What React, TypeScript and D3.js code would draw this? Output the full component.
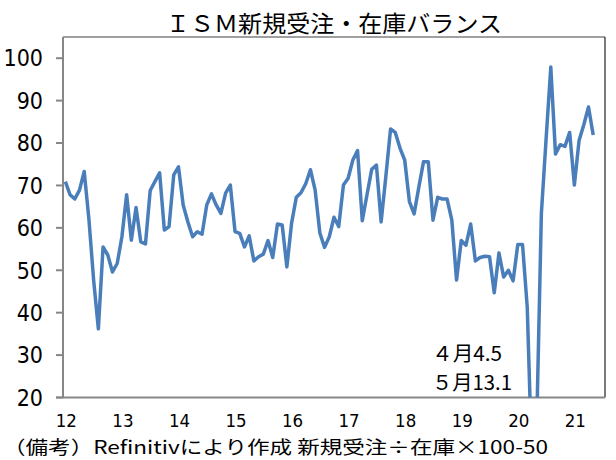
import React from "react";
import * as d3 from "d3";

// ISM new orders / inventories balance, monthly from 2012-01 to 2021-05
const values: number[] = [
  70.9, 67.8, 66.8, 68.9, 73.3, 62.0, 47.7, 36.2, 55.5, 53.6, 49.6, 51.6,
  57.9, 67.8, 57.1, 64.8, 56.7, 56.2, 68.8, 70.9, 73.0, 59.5, 60.3, 72.5,
  74.4, 65.4, 61.4, 57.9, 59.1, 58.5, 65.4, 68.0, 65.4, 63.4, 68.2, 70.1,
  59.1, 58.7, 55.5, 58.1, 52.2, 53.2, 53.8, 57.0, 53.0, 60.9, 60.7, 50.8,
  61.1, 67.2, 68.3, 70.4, 73.7, 68.9, 58.8, 55.4, 57.9, 62.5, 60.3, 70.1,
  71.7, 76.0, 78.2, 61.7, 67.8, 73.8, 74.8, 61.4, 72.1, 83.3, 82.5, 78.8,
  76.0, 66.2, 63.3, 69.6, 75.6, 75.6, 61.8, 67.2, 66.8, 66.8, 61.8, 47.7,
  57.0, 55.9, 60.9, 52.2, 53.0, 53.3, 53.2, 44.7, 54.1, 48.4, 50.0, 47.5,
  56.1, 56.1, 41.3, 4.5, 13.1, 63.4, 80.9, 97.9, 77.4, 79.6, 79.2, 82.5,
  70.1, 80.6, 84.3, 88.5, 81.9,
];

const yearLabels: string[] = ["12", "13", "14", "15", "16", "17", "18", "19", "20", "21"];
const yTicks: number[] = [20, 30, 40, 50, 60, 70, 80, 90, 100];
const annotations: string[] = ["４月4.5", "５月13.1"];
const title = "ＩＳＭ新規受注・在庫バランス";
const footnote = "（備考）Refinitivにより作成 新規受注÷在庫×100-50";

const W = 616;
const H = 460;
const plot = { left: 63, right: 605, top: 37, bottom: 397.5 };
const AXIS_MONTHS = 115;

const jp = "'Noto Sans CJK JP', sans-serif";
const num = "'Liberation Sans Narrow', 'DejaVu Sans Condensed', 'Liberation Sans', sans-serif";

export default function App() {
  const x = d3
    .scaleBand<number>()
    .domain(d3.range(AXIS_MONTHS))
    .range([plot.left, plot.right]);
  const bw = x.bandwidth();
  const cx = (i: number) => (x(i) as number) + bw / 2;
  const y = d3.scaleLinear().domain([20, 105]).range([plot.bottom, plot.top]);

  const line = d3
    .line<number>()
    .x((_, i) => cx(i))
    .y((d) => y(d));

  return (
    <svg
      width={W}
      height={H}
      style={{ position: "absolute", left: 0, top: 0, background: "#fff" }}
    >
      <defs>
        <clipPath id="plotClip">
          <rect
            x={plot.left}
            y={plot.top}
            width={plot.right - plot.left}
            height={plot.bottom - plot.top}
          />
        </clipPath>
      </defs>
      <rect width={W} height={H} fill="#fff" />

      <text
        x={(plot.left + plot.right) / 2}
        y={32}
        textAnchor="middle"
        fontFamily={jp}
        fontSize={23}
        textLength={336}
        lengthAdjust="spacingAndGlyphs"
        fill="#000"
      >
        {title}
      </text>

      {/* frame top and right */}
      <line x1={plot.left} x2={plot.right} y1={plot.top} y2={plot.top} stroke="#404040" strokeWidth={1} />
      <line x1={plot.right} x2={plot.right} y1={plot.top} y2={plot.bottom} stroke="#202020" strokeWidth={1.2} />

      {/* y axis */}
      <line x1={plot.left} x2={plot.left} y1={plot.top} y2={plot.bottom} stroke="#878787" strokeWidth={2} />
      {yTicks.map((t) => (
        <g key={t}>
          <line x1={plot.left - 7} x2={plot.left} y1={y(t)} y2={y(t)} stroke="#878787" strokeWidth={2} />
          <text
            x={43}
            y={y(t)}
            dy="0.36em"
            textAnchor="end"
            fontFamily={num}
            fontSize={23}
            fill="#000"
          >
            {t}
          </text>
        </g>
      ))}

      {/* x axis */}
      <line x1={plot.left - 7} x2={plot.right} y1={plot.bottom} y2={plot.bottom} stroke="#878787" strokeWidth={2} />
      {yearLabels.map((lab, k) => (
        <text
          key={lab}
          x={cx(k * 12) + 1}
          y={427}
          textAnchor="middle"
          fontFamily={num}
          fontSize={18.5}
          fill="#000"
        >
          {lab}
        </text>
      ))}

      <path
        d={line(values) || ""}
        fill="none"
        stroke="#4a7ebb"
        strokeWidth={3.5}
        strokeLinejoin="round"
        clipPath="url(#plotClip)"
      />

      <text x={432} y={361} fontFamily={jp} fontSize={20} textLength={70} lengthAdjust="spacingAndGlyphs" fill="#000">
        {annotations[0]}
      </text>
      <text x={432} y={390} fontFamily={jp} fontSize={20} textLength={80} lengthAdjust="spacingAndGlyphs" fill="#000">
        {annotations[1]}
      </text>

      <text x={3} y={453.5} fontFamily={jp} fontSize={18.5} textLength={545} lengthAdjust="spacingAndGlyphs" fill="#000">
        {footnote}
      </text>
    </svg>
  );
}
